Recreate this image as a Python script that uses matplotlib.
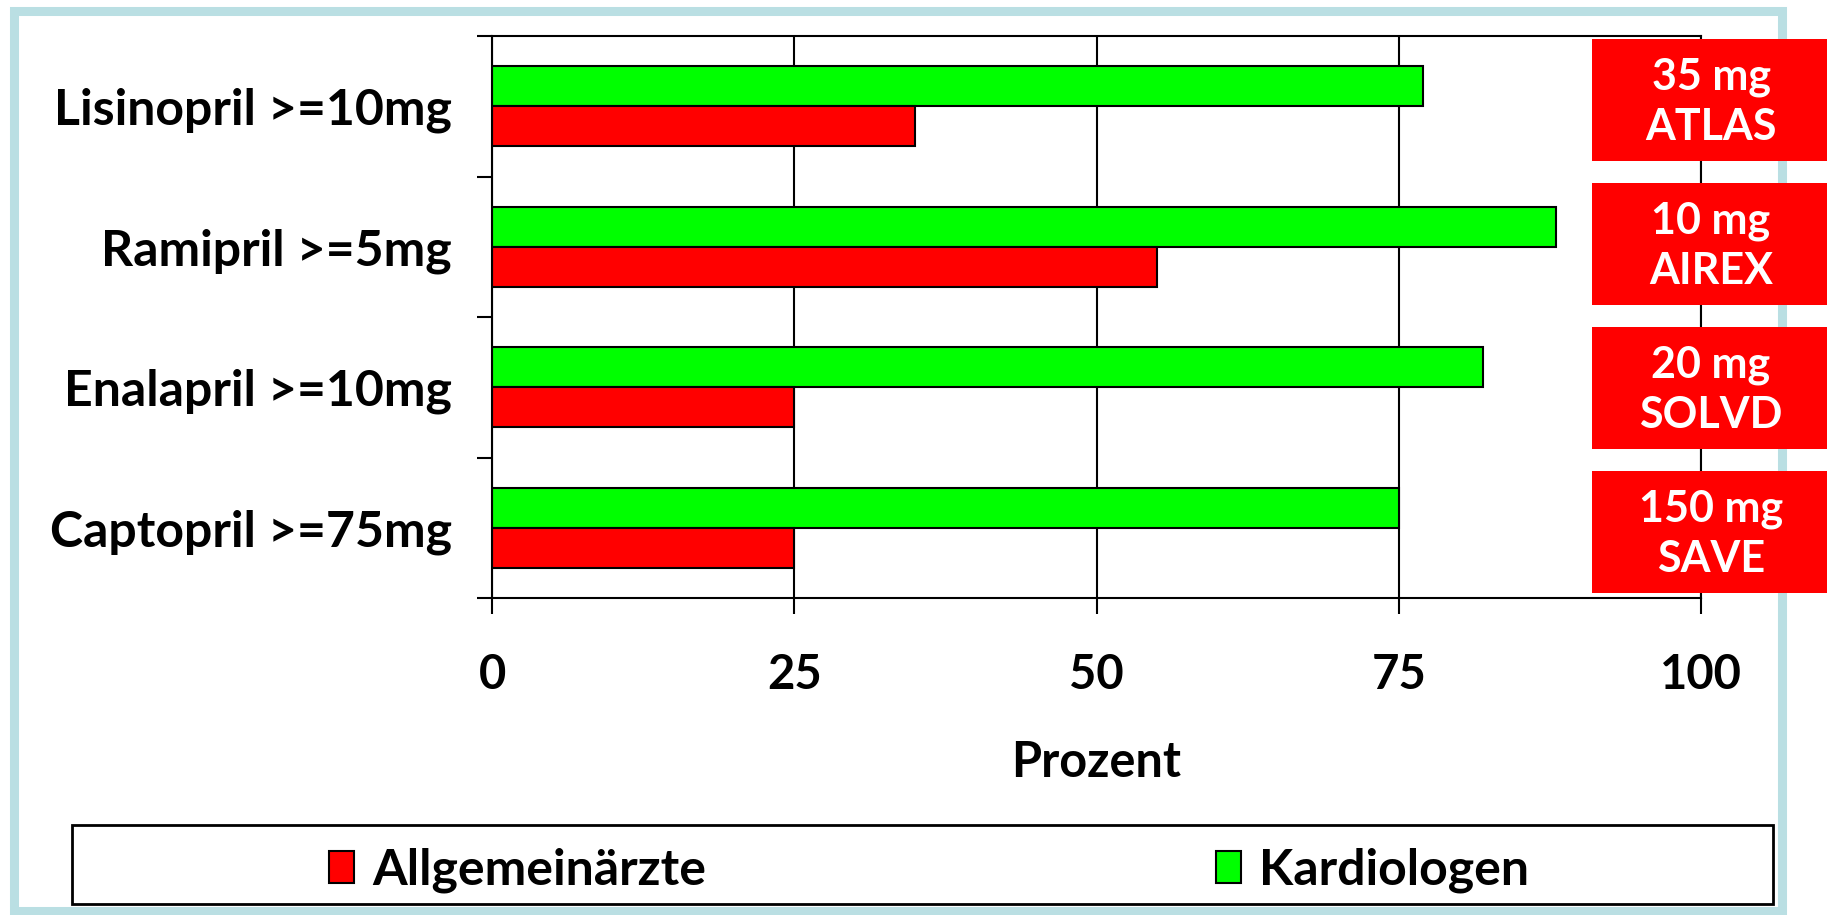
import numpy as np
import matplotlib
matplotlib.use('Agg')
from matplotlib import pyplot as plt
from matplotlib.patches import Rectangle, Patch
import matplotlib.transforms as mtransforms

plt.rcParams['font.family'] = ['Lato', 'DejaVu Sans']
plt.rcParams['font.weight'] = 'bold'
plt.rcParams['axes.labelweight'] = 'bold'

#=============+
# Chart data  |
#=============+
categories = ['Lisinopril >=10mg', 'Ramipril >=5mg', 'Enalapril >=10mg', 'Captopril >=75mg']
kardiologen = [77, 88, 82, 75]
allgemeinaerzte = [35, 55, 25, 25]
studien = ['35 mg\nATLAS', '10 mg\nAIREX', '20 mg\nSOLVD', '150 mg\nSAVE']
xticks = [0, 25, 50, 75, 100]

W, H = 1827, 915
fig = plt.figure(figsize=(W / 100, H / 100), dpi=100)

# light blue slide frame (behind everything)
fig.patches.append(Rectangle((13.5 / W, 4 / H), (1782 - 13.5) / W, (904.5 - 4) / H,
                             transform=fig.transFigure, fill=False,
                             edgecolor='#BADFE3', linewidth=6.5, zorder=-1))

ax = fig.add_axes([492 / W, (H - 598) / H, (1701 - 492) / W, (598 - 36) / H])

y = np.arange(len(categories))[::-1]
h = 0.285
ax.barh(y + h / 2, kardiologen, height=h, color='#00FF00', edgecolor='black', linewidth=1.5)
ax.barh(y - h / 2, allgemeinaerzte, height=h, color='#FF0000', edgecolor='black', linewidth=1.5)

ax.set_xlim(0, 100)
ax.set_ylim(-0.5, len(categories) - 0.5)
ax.set_xticks(xticks)
ax.set_yticks(y)
ax.set_yticklabels(categories)
ax.set_yticks(np.arange(-0.5, len(categories), 1), minor=True)
ax.tick_params(axis='y', which='major', length=0, pad=29, labelsize=36)
ax.tick_params(axis='y', which='minor', length=11, width=1.5, direction='out')
ax.tick_params(axis='x', length=11.5, width=1.5, direction='out', pad=28, labelsize=34)
ax.set_xlabel('Prozent', fontsize=35, labelpad=31)
ax.grid(axis='x', color='black', linewidth=1.5)
ax.set_axisbelow(True)
for s in ax.spines.values():
    s.set_linewidth(1.5)

# red study-dose boxes on the right (slightly wider pitch than the categories)
trans = mtransforms.blended_transform_factory(fig.transFigure, ax.transData)
mid = (len(categories) - 1) / 2
for yi, txt in zip(y, studien):
    yc = (yi - mid) * 1.025 + mid + 0.01
    ax.add_patch(Rectangle((1592 / W, yc - 0.434), 1 - 1592 / W + 0.01, 0.868, transform=trans,
                           facecolor='#FF0000', edgecolor='none', clip_on=False, zorder=5))
    ax.text(1711 / W, yc - 0.02, txt, transform=trans, ha='center', va='center', color='white',
            fontsize=31, linespacing=1.3, zorder=6)

# legend box
fig.patches.append(Rectangle((72 / W, (H - 904) / H), (1773 - 72) / W, (904 - 825) / H,
                             transform=fig.transFigure, facecolor='white',
                             edgecolor='black', linewidth=2))
handles = [Patch(facecolor='#FF0000', edgecolor='black', linewidth=1.5, label='Allgemeinärzte'),
           Patch(facecolor='#00FF00', edgecolor='black', linewidth=1.5, label='Kardiologen')]
fig.legend(handles=handles, loc='center', bbox_to_anchor=(929 / W, (H - 870) / H),
           ncol=2, frameon=False, fontsize=36, handlelength=0.5, handleheight=0.6,
           handletextpad=0.36, columnspacing=10.2)

plt.savefig('out.png', dpi=100)
